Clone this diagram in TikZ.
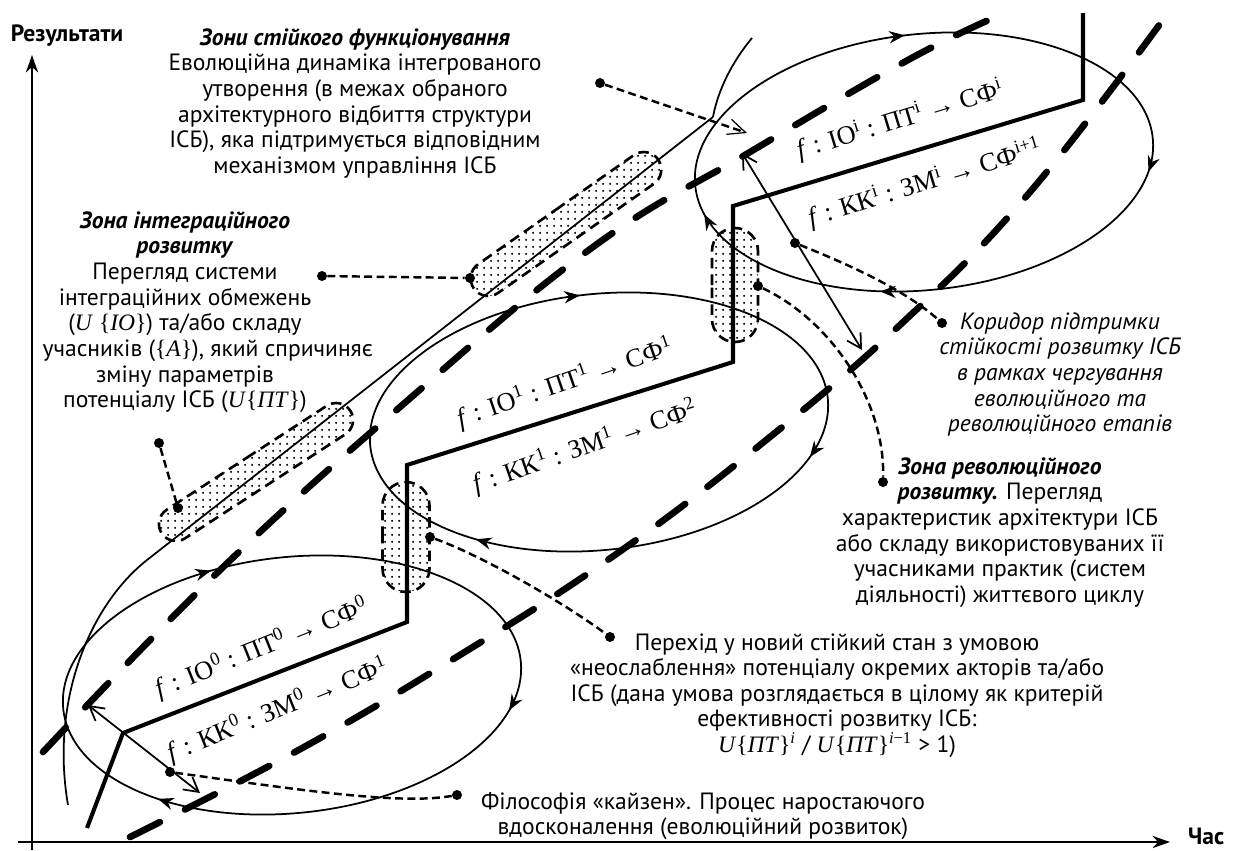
\documentclass[tikz,border=0pt]{standalone}
\usepackage{fontspec}
\setmainfont{PT Sans}
\newfontfamily\formfont{Liberation Serif}
\usetikzlibrary{arrows.meta, positioning, shapes.misc, patterns.meta, decorations.markings}

\newcommand{\fml}[1]{{\formfont #1}}
\newcommand{\hi}[1]{\textsuperscript{#1}}

\begin{document}
\begin{tikzpicture}[x=0.02cm, y=-0.02cm,
    axis/.style={line width=0.8pt, -{Stealth[length=10pt, width=7pt]}},
    corridor/.style={line width=3.8pt, line cap=round, dash pattern=on 19pt off 16pt},
    track/.style={line width=2.3pt, line join=miter},
    thinline/.style={line width=1pt},
    cyc/.style={postaction={decorate, decoration={markings,
        mark=at position #1 with {\arrow{Stealth[length=9pt, width=7pt]}}}}},
    capsule/.style={rounded rectangle, draw, line width=1.5pt,
        dash pattern=on 6pt off 3.5pt, pattern={Dots[distance=4pt, radius=0.75pt]},
        inner sep=0pt},
    leader/.style={line width=1.4pt, dash pattern=on 4.5pt off 2.5pt},
    dot/.style={circle, fill, inner sep=0pt, minimum size=0.2cm},
    barbs/.style={thinline, {Straight Barb[length=8pt, width=9pt]}-{Straight Barb[length=8pt, width=9pt]}},
    txt/.style={font=\fontsize{13.4}{14.6}\selectfont, align=center, inner sep=0pt},
    formula/.style={font=\formfont\fontsize{15}{18}\selectfont, inner sep=0pt}
  ]
    \useasboundingbox (0,0) rectangle (1235,850);

    %% Axes
    \coordinate (ybot) at (32,850);
    \coordinate (ytop) at (32,55);
    \coordinate (xleft) at (18,842);
    \coordinate (xright) at (1170,842);
    \draw[axis] (ybot) -- (ytop);
    \draw[axis] (xleft) -- (xright);
    \node[font=\bfseries\fontsize{13.4}{14.6}\selectfont] (res) at (67,36) {Результати};
    \node[font=\bfseries\fontsize{13.4}{14.6}\selectfont, anchor=west] (time) at (1182,836) {Час};

    %% Zones (dotted capsules)
    \node[capsule, minimum width=4.5cm, minimum height=0.68cm, rotate=33] (capA) at (256,472) {};
    \node[capsule, minimum width=4.5cm, minimum height=0.7cm, rotate=35] (capB) at (566,224) {};
    \node[capsule, minimum width=2.2cm, minimum height=0.94cm, rotate=90] (capD) at (406,537) {};
    \node[capsule, minimum width=2.28cm, minimum height=0.92cm, rotate=90] (capC) at (735,285) {};

    %% Corridor borders
    \draw[corridor] plot[smooth, tension=0.7] coordinates
      {(43,752) (217,573) (400,407) (593,247) (750,152) (908,60) (1000,15)};
    \draw[corridor] plot[smooth, tension=0.7] coordinates
      {(130,837) (295,752) (455,658) (612,557) (760,445) (900,325) (1030,192) (1168,13)};

    %% Cycles
    \draw[thinline, rotate around={6:(292,685)}, cyc=0.045, cyc=0.38, cyc=0.69]
      (292,685) ellipse [x radius=230, y radius=128];
    \draw[thinline, rotate around={6:(599,422)}, cyc=0.055, cyc=0.37, cyc=0.745]
      (599,422) ellipse [x radius=230, y radius=128];
    \draw[thinline, rotate around={6:(924,162)}, cyc=0.03, cyc=0.30, cyc=0.474, cyc=0.745]
      (924,162) ellipse [x radius=230, y radius=128];

    %% Tangent line
    \coordinate (tailA) at (68,805);
    \coordinate (tanA) at (147,560);
    \coordinate (tanB) at (713,117);
    \coordinate (tailB) at (752,38);
    \draw[thinline] (tailA) .. controls (50,700) and (90,605) .. (tanA) -- (tanB);
    \draw[thinline] (tanB) .. controls (718,90) and (732,62) .. (tailB);

    %% Development track
    \draw[track] (87,828) -- (123,733) -- (407,622) -- (407,465) -- (733,362)
      -- (733,206) -- (1083,100) -- (1083,13);

    %% Corridor width
    \coordinate (wA1) at (88,705);
    \coordinate (wA2) at (200,793);
    \coordinate (wB1) at (742,153);
    \coordinate (wB2) at (862,350);
    \draw[barbs] (wA1) -- (wA2);
    \draw[barbs] (wB1) -- (wB2);

    %% Formulas
    \node[formula, rotate=22] (f0a) at (262,648) {\textit{f} : IO\hi{0} : ПТ\hi{0} → СФ\hi{0}};
    \node[formula, rotate=22] (f0b) at (278,710) {\textit{f} : КК\hi{0} : ЗМ\hi{0} → СФ\hi{1}};
    \node[formula, rotate=19] (f1a) at (565,383) {\textit{f} : IO\hi{1} : ПТ\hi{1} → СФ\hi{1}};
    \node[formula, rotate=19] (f1b) at (585,447) {\textit{f} : КК\hi{1} : ЗМ\hi{1} → СФ\hi{2}};
    \node[formula, rotate=17] (fia) at (900,120) {\textit{f} : IO\hi{i} : ПТ\hi{i} → СФ\hi{i}};
    \node[formula, rotate=17] (fib) at (925,183) {\textit{f} : КК\hi{i} : ЗМ\hi{i} → СФ\hi{i+1}};

    %% Texts
    \node[txt, anchor=north] (zstable) at (355,28)
      {\textbf{\textit{Зони стійкого функціонування}}\\
       Еволюційна динаміка інтегрованого\\
       утворення (в межах обраного\\
       архітектурного відбиття структури\\
       ІСБ), яка підтримується відповідним\\
       механізмом управління ІСБ};
    \node[txt, anchor=north] (zint) at (185,211)
      {\textbf{\textit{Зона інтеграційного}}\\
       \textbf{\textit{розвитку}}\\
       Перегляд системи\\
       інтеграційних обмежень\\
       (\fml{\textit{U} \{\textit{IO}\}}) та/або складу\\
       \hspace*{26pt}учасників (\fml{\{\textit{A}\}}), який спричиняє\\
       зміну параметрів\\
       потенціалу ІСБ (\fml{\textit{U}\{\textit{ПТ}\}})};
    \node[txt, anchor=north, font=\itshape\fontsize{13.4}{14.6}\selectfont] (zkor) at (1060,312)
      {Коридор підтримки\\
       стійкості розвитку ІСБ\\
       в рамках чергування\\
       еволюційного та\\
       революційного етапів};
    \node[txt, anchor=north] (zrev) at (1000,457)
      {\textbf{\textit{Зона революційного}}\\
       \textbf{\textit{розвитку.}} Перегляд\\
       характеристик архітектури ІСБ\\
       або складу використовуваних її\\
       учасниками практик (систем\\
       діяльності) життєвого циклу};
    \node[txt, anchor=north] (zper) at (837,633)
      {Перехід у новий стійкий стан з умовою\\
       «неослаблення» потенціалу окремих акторів та/або\\
       ІСБ (дана умова розглядається в цілому як критерій\\
       ефективності розвитку ІСБ:\\
       \fml{\textit{U}\{\textit{ПТ}\}\hi{\textit{i}}} / \fml{\textit{U}\{\textit{ПТ}\}\hi{\textit{i}−1}} > 1)};
    \node[txt, anchor=north] (zkai) at (703,792)
      {Філософія «кайзен». Процес наростаючого\\
       вдосконалення (еволюційний розвиток)};

    %% Leaders
    \node[dot] (dzs) at (600,83) {};
    \coordinate (zsTip) at (747,133);
    \draw[leader, -{Straight Barb[length=10pt, width=9pt, line width=0.7pt]}] (dzs) -- (zsTip);

    \node[dot] (dint) at (322,276) {};
    \node[dot] (dcapB) at (470,278) {};
    \draw[leader] (dint) -- (dcapB);

    \node[dot] (dint2) at (159,443) {};
    \node[dot] (dcapA) at (178,508) {};
    \draw[leader] (dint2) -- (dcapA);

    \node[dot] (dwB) at (795,243) {};
    \node[dot] (dkor) at (942,323) {};
    \draw[leader] (dwB) .. controls (850,265) and (905,290) .. (dkor);

    \node[dot] (dcapC) at (758,286) {};
    \node[dot] (drev) at (883,482) {};
    \draw[leader] (dcapC) .. controls (830,320) and (885,400) .. (drev);

    \node[dot] (dcapD) at (430,537) {};
    \node[dot] (dper) at (610,637) {};
    \draw[leader] (dcapD) .. controls (480,555) and (560,600) .. (dper);

    \node[dot] (dwA) at (170,772) {};
    \node[dot] (dkai) at (457,795) {};
    \draw[leader] (dwA) .. controls (300,790) and (400,805) .. (dkai);
  \end{tikzpicture}
\end{document}
